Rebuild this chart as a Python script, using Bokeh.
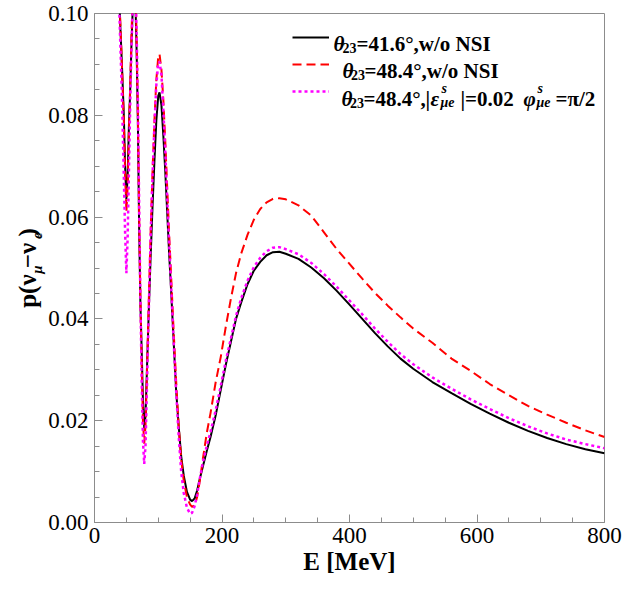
from bokeh.plotting import figure
from bokeh.models import (Label, Legend, LegendItem, FixedTicker, NumeralTickFormatter,
                          Range1d, LinearAxis)
from bokeh.embed import file_html
from bokeh.resources import INLINE

# Neutrino energy grid [MeV]
energy = [37, 40, 43, 46, 48, 50, 52, 54, 56, 58, 60, 62, 64, 66, 68, 70, 72, 74, 76, 78,
          80, 82, 85, 88, 91, 94, 97, 100, 102, 105, 108, 111, 114, 117, 120, 124, 128, 132, 136, 140,
          145, 150, 153, 157, 161, 165, 170, 176, 182, 190, 198, 206, 214, 222, 230, 240, 250, 260, 270, 280,
          290, 300, 320, 340, 360, 380, 400, 420, 440, 460, 480, 500, 530, 560, 590, 620, 650, 680, 710, 740,
          770, 800]

# theta23 = 41.6 deg, standard oscillation
p_std_416 = [0.113, 0.099, 0.090, 0.080, 0.070, 0.0635, 0.068, 0.078, 0.085, 0.094, 0.101, 0.106, 0.103, 0.093, 0.079, 0.058, 0.043, 0.034, 0.024, 0.0185,
             0.021, 0.029, 0.041, 0.052, 0.062, 0.071, 0.079, 0.0838, 0.0845, 0.082, 0.076, 0.069, 0.061, 0.053, 0.046, 0.036, 0.026, 0.019, 0.013, 0.0092,
             0.0060, 0.0045, 0.0042, 0.0047, 0.0063, 0.0085, 0.011, 0.014, 0.0168, 0.021, 0.026, 0.031, 0.0355, 0.040, 0.0432, 0.0468, 0.0495, 0.0512, 0.0525, 0.0531,
             0.0532, 0.0528, 0.0518, 0.0501, 0.0480, 0.0455, 0.0428, 0.0400, 0.0372, 0.0346, 0.0322, 0.0302, 0.0276, 0.0254, 0.0233, 0.0214, 0.0196, 0.0180, 0.0166, 0.0154,
             0.0144, 0.0136]

# theta23 = 48.4 deg, standard oscillation
p_std_484 = [0.113, 0.100, 0.090, 0.079, 0.069, 0.061, 0.066, 0.077, 0.086, 0.096, 0.104, 0.110, 0.106, 0.096, 0.081, 0.061, 0.044, 0.031, 0.020, 0.0155,
             0.019, 0.028, 0.043, 0.057, 0.069, 0.079, 0.087, 0.0915, 0.092, 0.089, 0.083, 0.075, 0.066, 0.057, 0.049, 0.038, 0.028, 0.019, 0.0125, 0.0082,
             0.0050, 0.0035, 0.0031, 0.0033, 0.0050, 0.0080, 0.0125, 0.0175, 0.0215, 0.0275, 0.0325, 0.0385, 0.0440, 0.0490, 0.0528, 0.0565, 0.0595, 0.0616, 0.0629, 0.0636,
             0.0637, 0.0635, 0.0623, 0.0603, 0.0570, 0.0537, 0.0508, 0.0479, 0.0451, 0.0426, 0.0403, 0.0381, 0.0353, 0.0322, 0.0298, 0.0272, 0.0250, 0.0229, 0.0212, 0.0196,
             0.0181, 0.0168]

# theta23 = 48.4 deg with NSI |eps_mue| = 0.02, phi_mue = pi/2
p_nsi_484 = [0.108, 0.096, 0.084, 0.068, 0.057, 0.049, 0.056, 0.069, 0.082, 0.093, 0.102, 0.108, 0.106, 0.097, 0.083, 0.063, 0.044, 0.028, 0.016, 0.0115,
             0.015, 0.025, 0.041, 0.056, 0.068, 0.078, 0.086, 0.0902, 0.0905, 0.088, 0.081, 0.073, 0.064, 0.055, 0.047, 0.036, 0.026, 0.017, 0.010, 0.0058,
             0.0029, 0.0017, 0.0019, 0.0032, 0.0055, 0.0085, 0.0118, 0.0150, 0.0178, 0.0220, 0.0268, 0.0318, 0.0362, 0.0406, 0.0440, 0.0475, 0.0502, 0.0520, 0.0533, 0.0540,
             0.0541, 0.0537, 0.0527, 0.0510, 0.0488, 0.0463, 0.0436, 0.0409, 0.0381, 0.0355, 0.0331, 0.0311, 0.0285, 0.0263, 0.0242, 0.0223, 0.0205, 0.0189, 0.0175, 0.0163,
             0.0154, 0.0146]

x_ticks = [0, 200, 400, 600, 800]
x_minor = [50, 100, 150, 250, 300, 350, 450, 500, 550, 650, 700, 750]
y_ticks = [0.0, 0.02, 0.04, 0.06, 0.08, 0.10]
y_minor = [0.005, 0.01, 0.015, 0.025, 0.03, 0.035, 0.045, 0.05, 0.055,
           0.065, 0.07, 0.075, 0.085, 0.09, 0.095]

SERIF = "Liberation Serif"
FRAME = "#8c8c8c"
W, H = 625, 595
FL, FB = 94, 522            # frame left / bottom edge on the page (px)
NB = "\u00a0"               # non-collapsing space used to lay out the y title

p = figure(width=W, height=H, output_backend="svg", toolbar_location=None,
           x_range=Range1d(0, 800), y_range=Range1d(0, 0.10),
           min_border_left=FL, min_border_right=21, min_border_top=13, min_border_bottom=H - FB)
p.grid.visible = False
p.background_fill_color = "white"
p.border_fill_color = "white"
p.outline_line_color = FRAME
p.outline_line_width = 1

for ax in (p.xaxis[0], p.yaxis[0]):
    ax.axis_line_color = FRAME
    ax.major_tick_line_color = FRAME
    ax.minor_tick_line_color = FRAME
    ax.major_tick_in = 8
    ax.major_tick_out = 0
    ax.minor_tick_in = 5
    ax.minor_tick_out = 0
    ax.major_label_text_font = SERIF
    ax.major_label_text_font_size = "23px"
    ax.major_label_text_color = "black"

p.xaxis.ticker = FixedTicker(ticks=x_ticks, minor_ticks=x_minor)
p.yaxis.ticker = FixedTicker(ticks=y_ticks, minor_ticks=y_minor)
p.yaxis.formatter = NumeralTickFormatter(format="0.00")
p.xaxis.major_label_standoff = 5
p.yaxis.major_label_standoff = 6

p.xaxis.axis_label = "E [MeV]"
p.xaxis.axis_label_text_font = SERIF
p.xaxis.axis_label_text_font_size = "25px"
p.xaxis.axis_label_text_font_style = "bold"
p.xaxis.axis_label_text_color = "black"
p.xaxis.axis_label_standoff = 2

# y title p(nu_mu - nu_e): the subscripts ride on the tick axis' label,
# the main run on a bare outer axis pulled back over it
ya = p.yaxis[0]
ya.axis_label = NB * 8 + "μ" + NB * 7 + "e"
ya.axis_label_text_font = SERIF
ya.axis_label_text_font_size = "15px"
ya.axis_label_text_font_style = "bold italic"
ya.axis_label_text_color = "black"
ya.axis_label_standoff = 0

title_axis = LinearAxis(ticker=FixedTicker(ticks=[], minor_ticks=[]),
                        axis_line_color=None, major_tick_line_color=None,
                        minor_tick_line_color=None, major_tick_in=0, major_tick_out=0,
                        minor_tick_in=0, minor_tick_out=0, major_label_standoff=0,
                        axis_label="p(ν" + NB + "−ν" + NB + ")",
                        axis_label_text_font=SERIF, axis_label_text_font_size="25px",
                        axis_label_text_font_style="bold", axis_label_text_color="black",
                        axis_label_standoff=-14)
p.add_layout(title_axis, "left")

r_black = p.line(energy, p_std_416, line_color="black", line_width=2)
r_red = p.line(energy, p_std_484, line_color="#ff0000", line_width=2, line_dash="9 5")
r_mag = p.line(energy, p_nsi_484, line_color="#ff00ff", line_width=2.5, line_dash="3 3")

# legend samples: rows centred near y = 37, 64, 91 px on the page
legend = Legend(items=[LegendItem(label=" ", renderers=[r_black]),
                       LegendItem(label=" ", renderers=[r_red]),
                       LegendItem(label=" ", renderers=[r_mag])],
                location=(292 - FL, FB - 101), glyph_width=37, glyph_height=20, label_height=20,
                spacing=7, padding=0, margin=0, label_standoff=0,
                border_line_alpha=0, background_fill_alpha=0, label_text_font_size="4px")
p.add_layout(legend)


def put(text, cx, cy, size, style="bold"):
    """Legend text run with its baseline start at page pixel (cx, cy)."""
    p.add_layout(Label(x=cx - FL, y=FB - cy, x_units="screen", y_units="screen",
                       text=text, text_font=SERIF, text_font_size=f"{size}px",
                       text_font_style=style, text_color="black",
                       text_align="left", text_baseline="alphabetic"))


put("θ", 333, 43.5, 21, "bold italic")
put("23", 342, 47.5, 14)
put("=41.6°,w/o NSI", 356, 43.5, 21)

put("θ", 342, 70.5, 21, "bold italic")
put("23", 350.5, 74.5, 14)
put("=48.4°,w/o NSI", 364, 70.5, 21)

put("θ", 341, 98, 21, "bold italic")
put("23", 349.5, 102, 14)
put("=48.4°,", 363, 98, 21)
put("|", 425, 98, 21)
put("ε", 430, 98, 21, "bold italic")
put("s", 441, 88, 14, "bold italic")
put("μe", 440, 102, 14, "bold italic")
put("|=0.02", 460, 98, 21)
put("φ", 523, 98, 21, "bold italic")
put("s", 537, 88, 14, "bold italic")
put("μe", 536, 102, 14, "bold italic")
put("=π/2", 555, 98, 21)

open("out.html", "w").write(file_html(p, INLINE))
